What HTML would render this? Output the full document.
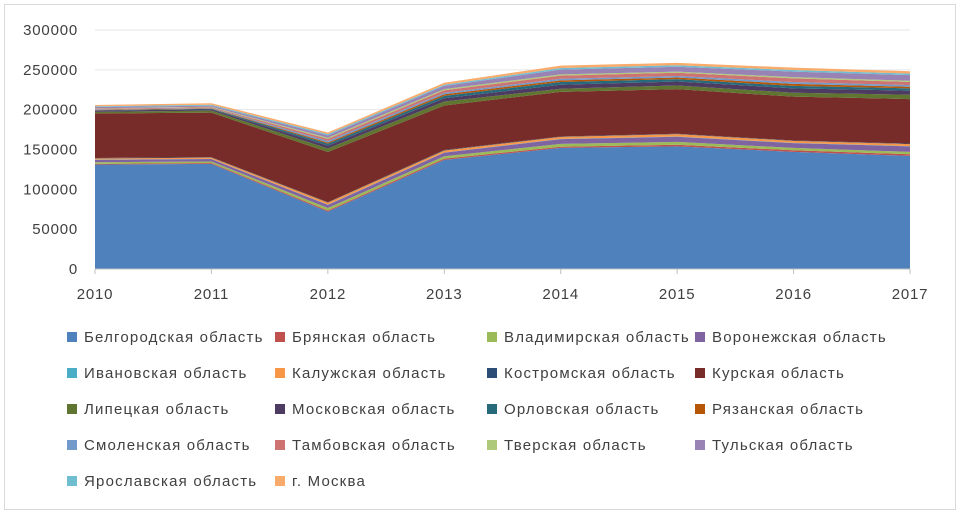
<!DOCTYPE html>
<html><head><meta charset="utf-8"><style>
body{margin:0;background:#fff;}
svg text{font-family:"Liberation Sans",sans-serif;fill:#404040;}
</style></head><body>
<svg id="chart" width="960" height="514" xmlns="http://www.w3.org/2000/svg">
<rect x="4.5" y="4.5" width="951" height="505" fill="#fff" stroke="#d9d9d9"/>
<g id="grid"></g><g id="areas"></g><g id="axes"></g><g id="legend"></g>
</svg>
<script>
const years=["2010","2011","2012","2013","2014","2015","2016","2017"];
const yTicks=[0,50000,100000,150000,200000,250000,300000];
const seriesNames=["Белгородская область","Брянская область","Владимирская область","Воронежская область","Ивановская область","Калужская область","Костромская область","Курская область","Липецкая область","Московская область","Орловская область","Рязанская область","Смоленская область","Тамбовская область","Тверская область","Тульская область","Ярославская область","г. Москва"];
const colors=["#4F81BD","#C0504D","#9BBB59","#8064A2","#4BACC6","#F79646","#2C4D75","#772C2A","#5F7530","#4D3B62","#276A7C","#B65708","#729ACA","#CD7371","#AFC97A","#9983B5","#6FBDD1","#F9AB6B"];
const belgorod=[131000,132000,72000,137000,152000,154000,147000,142000];
const bryansk=[1000,1000,1500,1500,1500,2000,2000,2000];
const vladimir=[2000,2000,3000,3000,3500,3500,3000,3000];
const voronezh=[3000,3000,4000,4500,6000,6500,6000,7000];
const ivanovo=[300,300,300,300,300,300,300,300];
const kaluga=[1500,1500,2500,2500,2500,3000,2500,2500];
const kostroma=[500,500,500,500,500,500,500,500];
const kursk=[56000,56000,63000,56000,56000,56000,55000,56000];
const lipetsk=[2000,2500,4500,5000,4000,4500,5000,5500];
const moscowObl=[1500,1500,3500,4000,5000,5000,5500,5000];
const orel=[500,800,2500,3000,3500,3000,3000,3000];
const ryazan=[500,500,1500,2000,2000,2000,2500,2000];
const smolensk=[500,500,2000,2000,2000,2000,2500,2000];
const tambov=[1000,1000,2500,3000,4000,4000,4500,4000];
const tver=[500,500,1500,1500,1500,1500,1500,1500];
const tula=[1500,1500,3000,4000,6000,6000,7000,7000];
const yaroslavl=[1000,1000,1500,1500,2000,2000,2000,2000];
const moscowCity=[1500,2000,2000,2500,3000,3000,3000,3000];
const series=[belgorod,bryansk,vladimir,voronezh,ivanovo,kaluga,kostroma,kursk,lipetsk,moscowObl,orel,ryazan,smolensk,tambov,tver,tula,yaroslavl,moscowCity];

const NS="http://www.w3.org/2000/svg";
const x0=95,x1=910,y0=269,y1=30,maxV=300000;
const xs=i=>x0+(x1-x0)*i/(years.length-1);
const ys=v=>y0-(y0-y1)*v/maxV;
function mk(tag,attrs,parent){const e=document.createElementNS(NS,tag);for(const k in attrs)e.setAttribute(k,attrs[k]);parent.appendChild(e);return e;}
const grid=document.getElementById('grid'),areas=document.getElementById('areas'),axes=document.getElementById('axes'),legend=document.getElementById('legend');
yTicks.forEach(t=>{
  const l=mk('line',{x1:x0,x2:x1,y1:ys(t),y2:ys(t),stroke:'#e6e6e6'},grid);
  
  
  const tx=mk('text',{x:78,y:ys(t)+5,'text-anchor':'end','font-size':15,'letter-spacing':0.8},axes);
  tx.textContent=t;
  
  
});
let base=years.map(()=>0);
series.forEach((s,si)=>{
  const top=base.map((b,i)=>b+s[i]);
  let d='';
  top.forEach((v,i)=>{d+=(i?'L':'M')+xs(i)+','+ys(v);});
  for(let i=years.length-1;i>=0;i--)d+='L'+xs(i)+','+ys(base[i]);
  d+='Z';
  const p=mk('path',{d:d,fill:colors[si]},areas);
  
  
  base=top;
});
const ax=mk('line',{x1:x0,x2:x1,y1:y0,y2:y0,stroke:'#bfbfbf'},axes);


years.forEach((yr,i)=>{
  const tk=mk('line',{x1:xs(i),x2:xs(i),y1:y0,y2:y0+5,stroke:'#bfbfbf'},axes);
  
  
  const tx=mk('text',{x:xs(i),y:299,'text-anchor':'middle','font-size':15,'letter-spacing':0.8},axes);
  tx.textContent=yr;
  
  
});
const colX=[67,275,487,695],rowY=[337,373,409,445,481];
seriesNames.forEach((n,i)=>{
  const cx=colX[i%4],cy=rowY[Math.floor(i/4)];
  const g=mk('g',{},legend);
  
  
  mk('rect',{x:cx,y:cy-5,width:10,height:10,fill:colors[i]},g);
  const t=mk('text',{x:cx+17,y:cy+5,'font-size':15,'letter-spacing':1.2},g);
  t.textContent=n;
});
</script>
</body></html>
